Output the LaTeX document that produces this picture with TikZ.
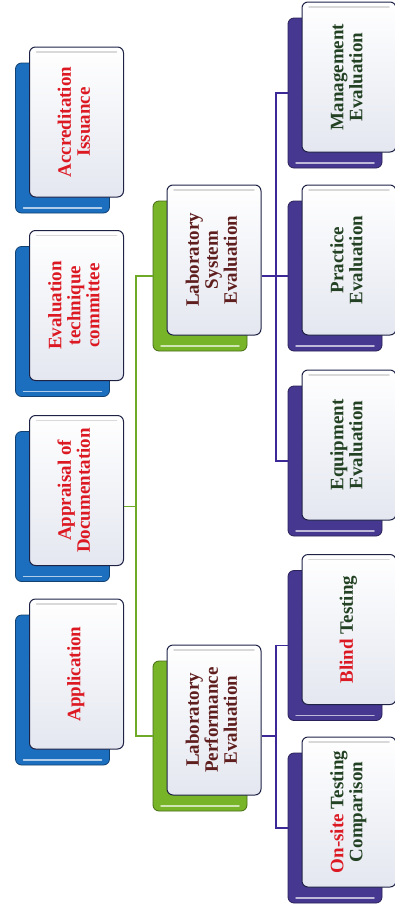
\documentclass[tikz,border=0pt]{standalone}
\usepackage{fontspec}
\usepackage{graphicx}
\setmainfont{Liberation Serif}
\definecolor{cardblue}{RGB}{28,110,190}
\definecolor{cardgreen}{RGB}{120,180,40}
\definecolor{cardviolet}{RGB}{70,55,145}
\definecolor{cardfill}{RGB}{228,231,240}
\definecolor{cardline}{RGB}{30,35,70}
\definecolor{txtred}{RGB}{220,25,35}
\definecolor{txtbrown}{RGB}{95,30,30}
\definecolor{txtgreen}{RGB}{35,65,35}
\definecolor{linegreen}{RGB}{110,170,40}
\definecolor{lineviolet}{RGB}{60,40,150}
\newcommand{\vtext}[1]{\rotatebox{90}{\begin{tabular}{@{}c@{}}#1\end{tabular}}}
\begin{document}
\begin{tikzpicture}[x=1pt,y=-1pt,
   back/.style={fill=#1,draw=#1!60!black,line width=0.8pt,rounded corners=6pt,
     minimum width=94pt,minimum height=150pt,inner sep=0pt,
     path picture={\draw[#1!35!white,line width=1.5pt,line cap=round]
       ([xshift=8pt,yshift=5pt]path picture bounding box.south west) --
       ([xshift=-8pt,yshift=5pt]path picture bounding box.south east);}},
   card/.style={draw=cardline,line width=1pt,rounded corners=6pt,
     top color=white,bottom color=cardfill,
     minimum width=94pt,minimum height=150pt,inner sep=0pt,
     font=\fontsize{19}{19}\selectfont\bfseries,text=#1,
     path picture={\draw[black!15,line width=1.5pt,line cap=round]
       ([xshift=7pt,yshift=-5pt]path picture bounding box.north west) --
       ([xshift=-7pt,yshift=-5pt]path picture bounding box.north east);}},
   gline/.style={draw=linegreen,line width=1.4pt},
   vline/.style={draw=lineviolet,line width=1.4pt}]
   \useasboundingbox (0,0) rectangle (395,908);
   % back plates
   \node [back=cardblue] (accr-b) at (62.5,138) {};
   \node [back=cardblue] (eval-b) at (62.5,321.5) {};
   \node [back=cardblue] (appr-b) at (62.5,506.5) {};
   \node [back=cardblue] (appl-b) at (62.5,690) {};
   \node [back=cardgreen] (lse-b) at (200,276) {};
   \node [back=cardgreen] (lpe-b) at (200,736) {};
   \node [back=cardviolet] (mgmt-b) at (335,93) {};
   \node [back=cardviolet] (prac-b) at (335,276) {};
   \node [back=cardviolet] (equip-b) at (335,461) {};
   \node [back=cardviolet] (blind-b) at (335,645.5) {};
   \node [back=cardviolet] (onsite-b) at (335,828) {};
   % front cards
   \node [card=txtred] (accr) at ([shift={(14,-16)}]accr-b) {\vtext{Accreditation\\Issuance}};
   \node [card=txtred] (eval) at ([shift={(14,-16)}]eval-b) {\vtext{Evaluation\\technique\\committee}};
   \node [card=txtred] (appr) at ([shift={(14,-16)}]appr-b) {\vtext{Appraisal of\\Documentation}};
   \node [card=txtred] (appl) at ([shift={(14,-16)}]appl-b) {\vtext{Application}};
   \node [card=txtbrown] (lse) at ([shift={(14,-16)}]lse-b) {\vtext{Laboratory\\System\\Evaluation}};
   \node [card=txtbrown] (lpe) at ([shift={(14,-16)}]lpe-b) {\vtext{Laboratory\\Performance\\Evaluation}};
   \node [card=txtgreen] (mgmt) at ([shift={(14,-16)}]mgmt-b) {\vtext{Management\\Evaluation}};
   \node [card=txtgreen] (prac) at ([shift={(14,-16)}]prac-b) {\vtext{Practice\\Evaluation}};
   \node [card=txtgreen] (equip) at ([shift={(14,-16)}]equip-b) {\vtext{Equipment\\Evaluation}};
   \node [card=txtgreen] (blind) at ([shift={(14,-16)}]blind-b) {\vtext{{\color{txtred}Blind} Testing}};
   \node [card=txtgreen] (onsite) at ([shift={(14,-16)}]onsite-b) {\vtext{{\color{txtred}On-site} Testing\\Comparison}};
   % connectors
   \coordinate (gjoin) at (136,506.5);
   \coordinate (vjoin1) at (276,276);
   \coordinate (vjoin2) at (276,736);
   \draw [gline] (appr.east |- appr-b) -- (gjoin);
   \draw [gline] (lse-b.west) -| (gjoin) |- (lpe-b.west);
   \draw [vline] (lse.east |- lse-b) -- (prac-b.west);
   \draw [vline] (mgmt-b.west) -| (vjoin1) |- (equip-b.west);
   \draw [vline] (lpe.east |- lpe-b) -- (vjoin2);
   \draw [vline] (blind-b.west) -| (vjoin2) |- (onsite-b.west);
\end{tikzpicture}
\end{document}
